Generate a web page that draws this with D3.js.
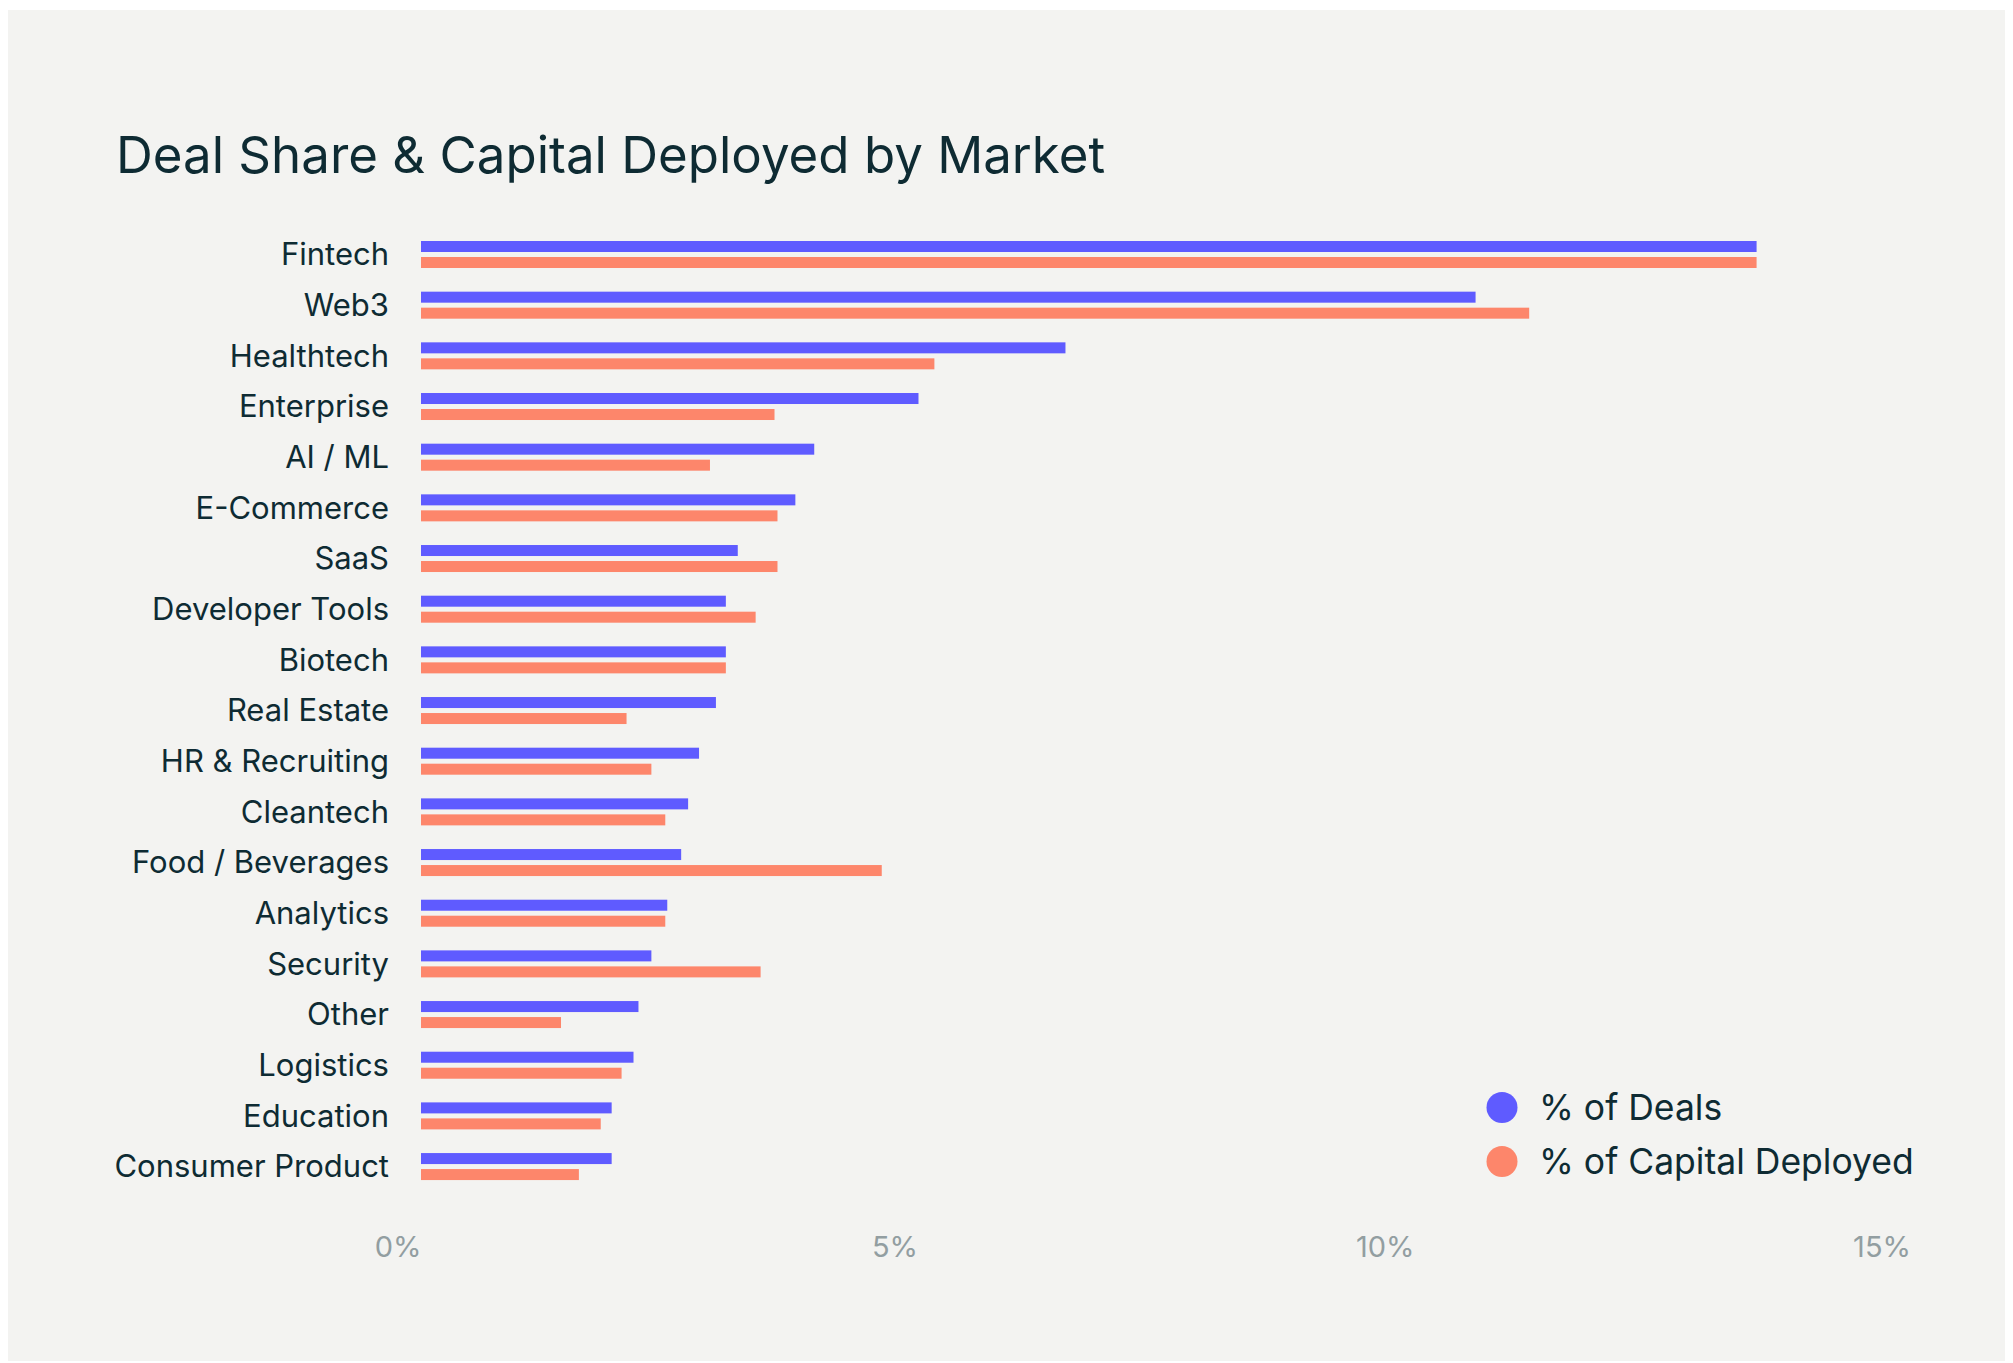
<!DOCTYPE html>
<html>
<head>
<meta charset="utf-8">
<script src="https://cdn.jsdelivr.net/npm/d3@7"></script>
<style>
  html, body { margin: 0; padding: 0; background: #ffffff; }
  svg { display: block; }
  text { font-family: Inter, "Noto Sans", sans-serif; }
</style>
</head>
<body>
<svg id="chart" width="2013" height="1363"></svg>
<script>
// Markets, top to bottom
const markets = [
  "Fintech", "Web3", "Healthtech", "Enterprise", "AI / ML", "E-Commerce", "SaaS",
  "Developer Tools", "Biotech", "Real Estate", "HR & Recruiting", "Cleantech",
  "Food / Beverages", "Analytics", "Security", "Other", "Logistics", "Education",
  "Consumer Product"
];

// Share of deal count (%)
const dealShare = [
  13.45, 10.62, 6.49, 5.01, 3.96, 3.77, 3.19,
  3.07, 3.07, 2.97, 2.80, 2.69,
  2.62, 2.48, 2.32, 2.19, 2.14, 1.92,
  1.92
];

// Share of capital deployed (%)
const capitalShare = [
  13.45, 11.16, 5.17, 3.56, 2.91, 3.59, 3.59,
  3.37, 3.07, 2.07, 2.32, 2.46,
  4.64, 2.46, 3.42, 1.41, 2.02, 1.81,
  1.59
];

const xTicks = [0, 5, 10, 15];
const seriesNames = ["% of Deals", "% of Capital Deployed"];
const seriesColors = ["#5f5bff", "#fd866b"];

const svg = d3.select("#chart");

// panel background
svg.append("rect")
  .attr("x", 8).attr("y", 10)
  .attr("width", 1997).attr("height", 1351)
  .attr("fill", "#f3f3f1");

// title
svg.append("text")
  .attr("x", 116).attr("y", 173)
  .attr("font-size", 51)
  .attr("fill", "#0e2b33")
  .text("Deal Share & Capital Deployed by Market");

const rowStep = 50.67;
const rowsTop = 241;
const x = d3.scaleLinear().domain([0, 15]).range([421, 421 + 15 * 99.3]);
const y = d3.scaleBand().domain(markets).range([rowsTop, rowsTop + markets.length * rowStep]).padding(0);

const barH = 11, barGap = 5;

const rows = svg.append("g").selectAll("g")
  .data(markets.map((m, i) => ({ m, deal: dealShare[i], cap: capitalShare[i] })))
  .join("g")
  .attr("transform", d => `translate(0,${y(d.m)})`);

rows.append("rect")
  .attr("x", x(0))
  .attr("y", 0)
  .attr("width", d => x(d.deal) - x(0))
  .attr("height", barH)
  .attr("fill", seriesColors[0]);

rows.append("rect")
  .attr("x", x(0))
  .attr("y", barH + barGap)
  .attr("width", d => x(d.cap) - x(0))
  .attr("height", barH)
  .attr("fill", seriesColors[1]);

rows.append("text")
  .attr("x", 389)
  .attr("y", barH + barGap / 2)
  .attr("dy", "0.35em")
  .attr("text-anchor", "end")
  .attr("font-size", 31)
  .attr("fill", "#0e2b33")
  .text(d => d.m);

// x axis labels (no domain line, no tick marks)
const axis = d3.axisBottom(x)
  .tickValues(xTicks)
  .tickFormat(d => d + "%")
  .tickSize(0)
  .tickPadding(0);

const gAxis = svg.append("g")
  .attr("transform", "translate(0,1257)")
  .call(axis);
gAxis.attr("font-family", null).attr("font-size", null);
gAxis.select(".domain").remove();
gAxis.selectAll("text")
  .attr("font-size", 29)
  .attr("fill", "#929ea1")
  .attr("text-anchor", "end")
  .attr("dy", 0)
  .attr("y", 0);

// legend
const legend = svg.append("g").selectAll("g")
  .data(seriesNames)
  .join("g")
  .attr("transform", (d, i) => `translate(1502,${1107.5 + i * 54})`);

legend.append("circle")
  .attr("r", 15.5)
  .attr("fill", (d, i) => seriesColors[i]);

legend.append("text")
  .attr("x", 37)
  .attr("dy", "0.35em")
  .attr("font-size", 35.5)
  .attr("fill", "#0e2b33")
  .text(d => d);
</script>
</body>
</html>
